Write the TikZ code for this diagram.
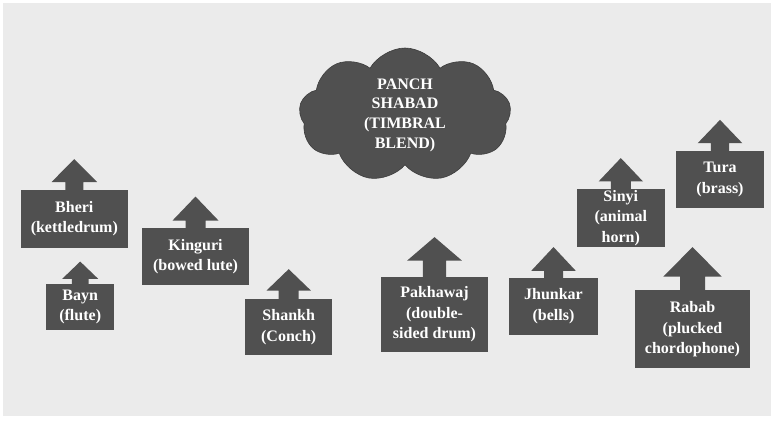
\documentclass[tikz,border=0pt]{standalone}
\usepackage{fontspec}
\setmainfont{Liberation Serif}
\usetikzlibrary{shapes.symbols,calc}
\definecolor{pagebg}{HTML}{EBEBEB}
\definecolor{boxgray}{HTML}{505050}
\definecolor{cloudline}{HTML}{3C3C3C}
\tikzset{
  inst/.style={fill=boxgray, text=white, align=center, inner sep=0pt,
    font=\bfseries\fontsize{16}{20.5}\selectfont},
  corecloud/.style={cloud, cloud puffs=9, cloud puff arc=120, cloud ignores aspect,
    fill=boxgray, draw=cloudline, line width=0.6pt, text=white, align=center,
    inner sep=0pt, font=\bfseries\fontsize{16}{19.7}\selectfont},
}
% upward block arrow sitting on top of a box:
% #1 box, #2 shaft length, #3 head height, #4 head half-width, #5 shaft half-width
\newcommand\instarrow[5]{%
  \fill[boxgray] ($(#1.north)+(-#5,1)$) -- ($(#1.north)+(-#5,-#2)$)
    -- ($(#1.north)+(-#4,-#2)$) -- ($(#1.north)+(0,{-#2-#3})$)
    -- ($(#1.north)+(#4,-#2)$) -- ($(#1.north)+(#5,-#2)$)
    -- ($(#1.north)+(#5,1)$) -- cycle;}
\begin{document}
\begin{tikzpicture}[x=1pt,y=-1pt]
\useasboundingbox (0,0) rectangle (775,421);
\fill[white] (0,0) rectangle (775,421);
\fill[pagebg] (3,3) rectangle (771,416);

\node[corecloud, minimum width=212pt, minimum height=134pt] (core) at (405,115)
  {PANCH\\SHABAD\\(TIMBRAL\\BLEND)};

\node[inst, minimum width=107.3pt, minimum height=57.7pt] (bheri) at (74.3,218.8) {Bheri\\(kettledrum)};
\node[inst, minimum width=107.6pt, minimum height=56.7pt] (kinguri) at (195.5,256.7) {Kinguri\\(bowed lute)};
\node[inst, minimum width=68.3pt, minimum height=45.7pt] (bayn) at (80.2,307.2) {Bayn\\(flute)};
\node[inst, minimum width=87.3pt, minimum height=55.7pt] (shankh) at (288.7,327.2) {Shankh\\(Conch)};
\node[inst, minimum width=107.6pt, minimum height=74.4pt] (pakhawaj) at (434.5,314.5) {Pakhawaj\\(double-\\sided drum)};
\node[inst, minimum width=88.4pt, minimum height=57.3pt] (jhunkar) at (553.5,306.3) {Jhunkar\\(bells)};
\node[inst, minimum width=88.3pt, minimum height=57.7pt] (sinyi) at (620.8,217.8) {Sinyi\\(animal\\horn)};
\node[inst, minimum width=88pt, minimum height=57.3pt] (tura) at (720,179.7) {Tura\\(brass)};
\node[inst, minimum width=115pt, minimum height=78.3pt] (rabab) at (692.5,329.2) {Rabab\\(plucked\\chordophone)};

\instarrow{bheri}{7.7}{23}{22.8}{9}
\instarrow{kinguri}{7.6}{24}{23}{10}
\instarrow{bayn}{5.3}{17.3}{18}{8.3}
\instarrow{shankh}{8.6}{21.4}{22.2}{10}
\instarrow{pakhawaj}{16.6}{23.4}{27.3}{11.7}
\instarrow{jhunkar}{6.7}{23.7}{22.2}{9.5}
\instarrow{sinyi}{7.3}{23.4}{22.2}{10}
\instarrow{tura}{7.7}{23.3}{22.3}{9.2}
\instarrow{rabab}{13.3}{29.4}{29.2}{12.5}
\end{tikzpicture}
\end{document}
